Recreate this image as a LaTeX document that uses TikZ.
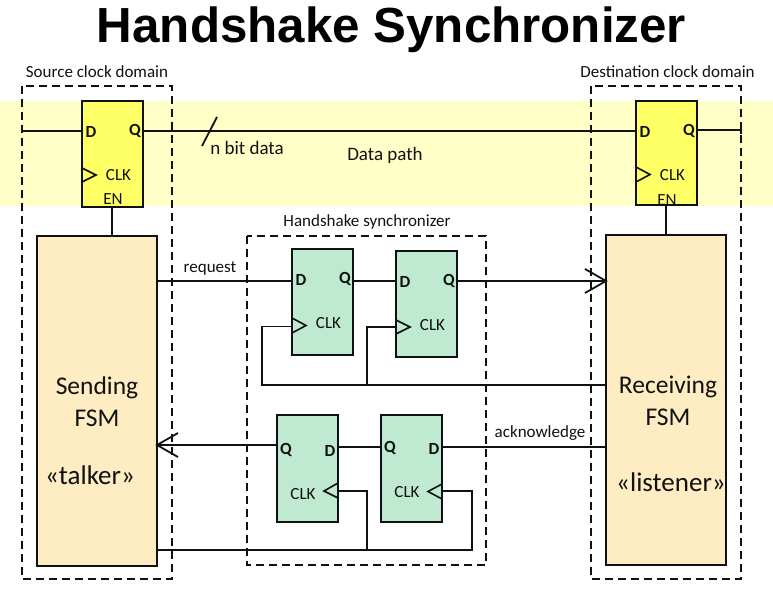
\documentclass[tikz,border=0pt]{standalone}
\usepackage{fontspec}
\setmainfont{Carlito}
\newfontfamily\titlefont{Liberation Sans}
\usetikzlibrary{arrows.meta,calc}
\definecolor{band}{HTML}{FFFFC8}
\definecolor{ffy}{HTML}{FFFF66}
\definecolor{ffg}{HTML}{BFE9D1}
\definecolor{fsmc}{HTML}{FEECC2}
\definecolor{ink}{HTML}{111111}
\pgfdeclarearrow{
  name = Chevron,
  setup code = {
    \pgfarrowssettipend{0pt}
    \pgfarrowssetlineend{-1pt}
    \pgfarrowssetvisualbackend{-21pt}
    \pgfarrowssetbackend{-21pt}
    \pgfarrowshullpoint{0pt}{0pt}
    \pgfarrowshullpoint{-21pt}{12pt}
    \pgfarrowshullpoint{-21pt}{-12pt}
  },
  drawing code = {
    \pgfsetdash{}{0pt}
    \pgfpathmoveto{\pgfqpoint{-21pt}{12pt}}
    \pgfpathlineto{\pgfqpoint{0pt}{0pt}}
    \pgfpathlineto{\pgfqpoint{-21pt}{-12pt}}
    \pgfusepathqstroke
  },
}
\tikzset{
  wire/.style={draw=ink,line width=1.8pt},
  bigarrow/.style={wire,-{Chevron}},
  dash box/.style={draw=ink,line width=1.3pt,dash pattern=on 8pt off 5pt},
  ffbox/.style={draw=ink,line width=1.5pt,outer sep=0pt,minimum width=61pt,minimum height=106pt,inner sep=0pt,anchor=north west},
  fsmbox/.style={draw=ink,line width=1.5pt,outer sep=0pt,fill=fsmc,minimum width=120pt,minimum height=330pt,inner sep=0pt,anchor=north west},
  tri/.style={draw=ink,line width=1.6pt},
  pin/.style={font=\fontsize{17}{17}\selectfont\bfseries,inner sep=0pt,text=ink},
  small/.style={font=\fontsize{17}{17}\selectfont,inner sep=0pt,text=ink},
  caption/.style={font=\fontsize{17}{17}\selectfont,inner sep=0pt,text=ink},
  bigcap/.style={font=\fontsize{19}{19}\selectfont,inner sep=0pt,text=ink},
  fsmtext/.style={font=\fontsize{25.5}{25.5}\selectfont,inner sep=0pt,text=ink},
  fsmrole/.style={font=\fontsize{27}{27}\selectfont,inner sep=0pt,text=ink},
}
\begin{document}
\begin{tikzpicture}[x=1pt,y=-1pt]
\useasboundingbox (0,0) rectangle (773,589);
% band
\fill[band] (0,101) rectangle (773,206);
% title
\node[inner sep=0pt] (title) at (391.5,30) {\titlefont\bfseries\fontsize{49.3}{49.3}\selectfont Handshake Synchronizer};
% boxes
\node[ffbox,fill=ffy] (srcff) at (82,101) {};
\node[ffbox,fill=ffy,minimum height=104pt] (dstff) at (636,101) {};
\node[fsmbox] (send) at (37,236) {};
\node[fsmbox] (recv) at (606,235) {};
\node[ffbox,fill=ffg] (a) at (292,249) {};
\node[ffbox,fill=ffg] (b) at (396,251) {};
\node[ffbox,fill=ffg,minimum height=107pt] (c) at (277,415) {};
\node[ffbox,fill=ffg,minimum height=107pt] (d) at (381,415) {};
% dashed domains
\draw[dash box] (22,86) rectangle (172,579);
\draw[dash box] (591,86) rectangle (741,579);
\draw[dash box] (247,236) rectangle (486,565);
% connector ends
\coordinate (dataL) at (22,131);
\coordinate (dataR) at (741,130);
\coordinate (clkT) at (262,385);
\coordinate (ackB) at (472,550);
% wires
\draw[wire] (dataL) -- (dataL -| srcff.west);
\draw[wire] (srcff.east |- dataL) -- (dstff.west |- dataL);
\draw[wire] (dstff.east |- dataR) -- (dataR);
\draw[wire] (dataR)+(0,-4) -- +(0,4);
\coordinate (tickA) at (202,146);
\coordinate (tickB) at (217,117);
\draw[wire] (tickA) -- (tickB);
\draw[wire] (112,206) -- (112,236);
\draw[wire] (666,205) -- (666,235);
% request path
\draw[wire] (send.east |- 0,281) -- (a.west |- 0,281);
\draw[wire] (a.east |- 0,281) -- (b.west |- 0,281);
\draw[bigarrow] (b.east |- 0,281) -- (recv.west |- 0,281);
% request clock
\draw[wire] (recv.west |- clkT) -- (clkT) -- (clkT |- 0,326.5) -- (a.west |- 0,326.5);
\draw[wire] (367,385) -- (367,327) -- (b.west |- 0,327);
% acknowledge path
\draw[wire] (recv.west |- 0,447) -- (d.east |- 0,447);
\draw[wire] (d.west |- 0,447) -- (c.east |- 0,447);
\draw[bigarrow] (c.west |- 0,445) -- (send.east |- 0,445);
% ack clock
\draw[wire] (send.east |- ackB) -- (ackB) -- (ackB |- 0,491) -- (d.east |- 0,491);
\draw[wire] (367,550) -- (367,491) -- (c.east |- 0,491);
% clock triangles
\draw[tri] (82,168) -- (96,175) -- (82,182);
\draw[tri] (636,167) -- (650,174.5) -- (636,182);
\draw[tri] (292,318) -- (306,325.5) -- (292,333);
\draw[tri] (396,320) -- (410,327) -- (396,334);
\draw[tri] (338,483) -- (324,491) -- (338,498);
\draw[tri] (442,484) -- (428,491.5) -- (442,499);
% pin labels
\foreach \n/\dx/\dy in {srcff/82/101,dstff/636/101,a/292/249,b/396/251}{
  \node[pin] (\n-D) at (\dx+9,\dy+30.5) {D};
  \node[pin] (\n-Q) at (\dx+53,\dy+29.5) {Q};
  \node[small] (\n-CLK) at (\dx+36.5,\dy+74.5) {CLK};
}
\node[small] (srcff-EN) at (113,199) {EN};
\node[small] (dstff-EN) at (667,200) {EN};
\node[pin] (c-Q) at (286,450) {Q};
\node[pin] (c-D) at (330,451) {D};
\node[small] (c-CLK) at (303,494) {CLK};
\node[pin] (d-Q) at (390,448) {Q};
\node[pin] (d-D) at (434,449) {D};
\node[small] (d-CLK) at (407,492) {CLK};
% captions
\node[caption] (srccap) at (97,72) {Source clock domain};
\node[caption] (dstcap) at (667.5,72) {Destination clock domain};
\node[caption] (hscap) at (367,222) {Handshake synchronizer};
\node[bigcap] (nbit) at (247,148) {n bit data};
\node[bigcap] (dpath) at (385,155) {Data path};
\node[caption] (req) at (210,268) {request};
\node[caption] (ack) at (540,433) {acknowledge};
% FSM text
\node[fsmtext] (s1) at (97,388) {Sending};
\node[fsmtext] (s2) at (97,418) {FSM};
\node[fsmrole] (s3) at (90,475) {«talker»};
\node[fsmtext] (r1) at (668,387) {Receiving};
\node[fsmtext] (r2) at (668,417) {FSM};
\node[fsmrole] (r3) at (671,482) {«listener»};
\end{tikzpicture}
\end{document}
